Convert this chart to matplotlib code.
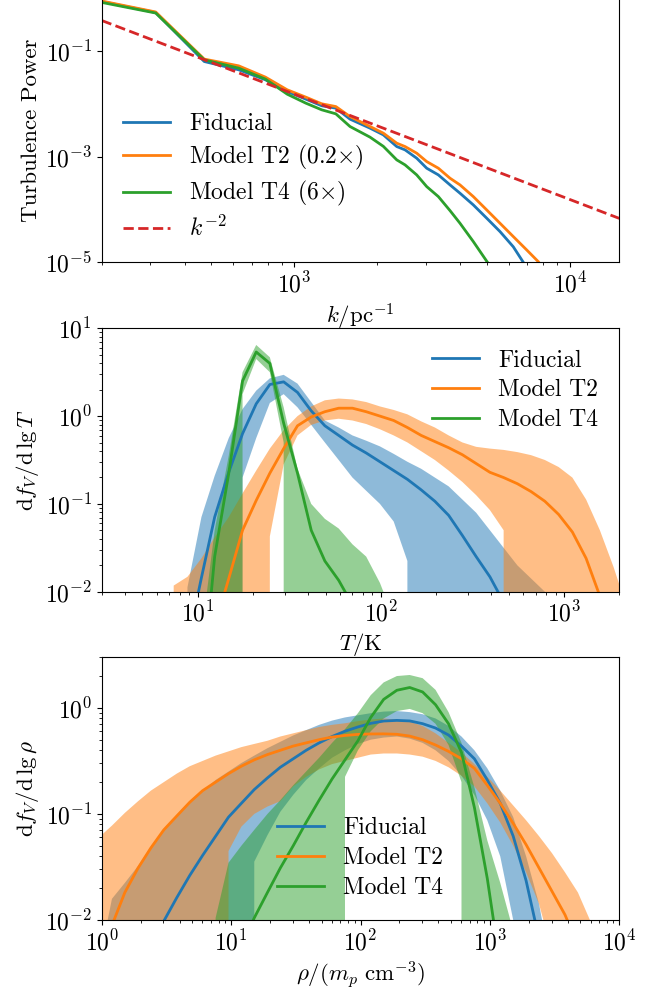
import numpy as np
import matplotlib
matplotlib.use("Agg")
from matplotlib import pyplot as plt

plt.rcParams['font.family'] = 'serif'
plt.rcParams['font.serif'] = ['cmr10', 'DejaVu Serif']
plt.rcParams['mathtext.fontset'] = 'cm'
plt.rcParams['axes.unicode_minus'] = False
plt.rcParams['axes.formatter.use_mathtext'] = True
plt.rcParams['font.size'] = 17
plt.rcParams['axes.labelsize'] = 16.5
plt.rcParams['axes.labelpad'] = 3
plt.rcParams['legend.fontsize'] = 17
plt.rcParams['legend.labelspacing'] = 0.32

Z = -np.inf  # empty bin (lg of zero)

# ---- turbulence power spectrum ----
k = [157, 314, 471, 628, 785, 942, 1100, 1257, 1414, 1592, 1882, 2103, 2352, 2521,
     2779, 3021, 3330, 3671, 3990, 4460, 4988, 5574, 6229, 6965, 7674, 8500]
lg_P_fid = [0.06, -0.26, -1.19, -1.347, -1.537, -1.76, -1.904, -2.03, -2.075, -2.284,
            -2.455, -2.582, -2.804, -2.867, -3.025, -3.215, -3.342, -3.532, -3.69,
            -3.912, -4.164, -4.418, -4.707, -5.1, -5.4, -5.7]
lg_P_t2 = [0.07, -0.25, -1.144, -1.272, -1.486, -1.727, -1.866, -1.993, -2.045, -2.234,
           -2.424, -2.55, -2.74, -2.804, -2.93, -3.089, -3.215, -3.405, -3.532,
           -3.754, -4.007, -4.26, -4.513, -4.766, -4.989, -5.3]
lg_P_t4 = [0.04, -0.27, -1.158, -1.316, -1.524, -1.81, -1.98, -2.107, -2.183, -2.424,
           -2.626, -2.80, -3.057, -3.152, -3.342, -3.564, -3.754, -4.02, -4.26,
           -4.608, -4.98, -5.35, -5.8, -6.3, -6.8, -7.2]
k_ref = [200, 15100]
A_ref = 1.55e4  # normalisation of the k^-2 guide

# ---- temperature PDF ----
T = [7.41, 8.81, 10.5, 12.4, 14.8, 17.6, 20.9, 24.8, 29.5, 35.1, 41.7, 49.5, 58.9,
     70.0, 83.2, 98.9, 117.5, 139.6, 166.0, 197.2, 234.4, 278.6, 331.1, 393.6, 467.7,
     555.9, 660.7, 785.2, 933.3, 1109, 1318, 1567, 1862, 2213]
lg_fid_T = [Z, -2.6, -1.84, -1.15, -0.64, -0.2, 0.14, 0.36, 0.39, 0.27, 0.06, -0.11,
            -0.22, -0.33, -0.42, -0.52, -0.62, -0.72, -0.84, -0.97, -1.13, -1.36, -1.6,
            -1.83, -2.12, -2.5, Z, Z, Z, Z, Z, Z, Z, Z]
lg_fid_T_hi = [Z, -1.95, -1.15, -0.68, -0.25, 0.08, 0.29, 0.43, 0.47, 0.37, 0.16, -0.05,
               -0.13, -0.22, -0.28, -0.345, -0.43, -0.52, -0.6, -0.7, -0.8, -0.95, -1.1,
               -1.3, -1.5, -1.7, -1.85, -2.0, -2.3, Z, Z, Z, Z, Z]
lg_fid_T_lo = [Z, Z, Z, Z, Z, -0.7, -0.25, 0.15, 0.25, 0.1, -0.1, -0.3, -0.5, -0.7,
               -0.85, -1.0, -1.2, -1.65, Z, Z, Z, Z, Z, Z, Z, Z, Z, Z, Z, Z, Z, Z, Z, Z]
lg_t2_T = [Z, Z, Z, -2.4, -1.85, -1.30, -0.96, -0.65, -0.37, -0.11, -0.01, 0.05, 0.09,
           0.09, 0.05, 0.0, -0.05, -0.13, -0.22, -0.29, -0.36, -0.44, -0.54, -0.64,
           -0.70, -0.77, -0.86, -0.97, -1.12, -1.32, -1.62, -2.05, -2.6, Z]
lg_t2_T_hi = [-1.93, -1.83, -1.62, -1.38, -1.15, -0.88, -0.62, -0.37, -0.16, 0.0, 0.11,
              0.18, 0.2, 0.19, 0.16, 0.11, 0.07, 0.02, -0.06, -0.13, -0.22, -0.3, -0.35,
              -0.37, -0.385, -0.41, -0.445, -0.5, -0.58, -0.7, -0.95, -1.3, -1.72, -2.2]
lg_t2_T_lo = [Z, Z, Z, Z, Z, Z, Z, -1.37, -0.55, -0.22, -0.1, -0.05, -0.03, -0.05, -0.09,
              -0.15, -0.22, -0.3, -0.4, -0.5, -0.62, -0.75, -0.9, -1.07, -1.3,
              Z, Z, Z, Z, Z, Z, Z, Z, Z]
lg_t4_T = [Z, Z, -3.2, -1.6, -0.65, 0.40, 0.73, 0.60, -0.08, -0.65, -1.3, -1.65, -1.87,
           -2.15, -2.5, Z, Z, Z, Z, Z, Z, Z, Z, Z, Z, Z, Z, Z, Z, Z, Z, Z, Z, Z]
lg_t4_T_hi = [Z, Z, -2.5, -1.3, -0.45, 0.5, 0.81, 0.67, 0.1, -0.6, -1.0, -1.17, -1.28,
              -1.46, -1.6, -1.9, -2.3, Z, Z, Z, Z, Z, Z, Z, Z, Z, Z, Z, Z, Z, Z, Z, Z, Z]
lg_t4_T_lo = [Z, Z, Z, Z, Z, 0.25, 0.65, 0.5, -0.3, Z, Z, Z, Z, Z, Z, Z, Z, Z, Z, Z, Z,
              Z, Z, Z, Z, Z, Z, Z, Z, Z, Z, Z, Z, Z]

# ---- density PDF ----
rho = [0.955, 1.20, 1.51, 1.91, 2.40, 3.02, 3.80, 4.79, 6.03, 7.59, 9.55, 12.0, 15.1,
       19.1, 24.0, 30.2, 38.0, 47.9, 60.3, 75.9, 95.5, 120, 151, 191, 240, 302, 380,
       479, 603, 759, 955, 1202, 1514, 1905, 2399, 3020, 3802, 4786, 6026, 7586]
lg_fid_r = [-3.35, -3.06, -2.72, -2.41, -2.19, -2.01, -1.79, -1.58, -1.39, -1.21, -1.03,
            -0.9, -0.77, -0.66, -0.56, -0.48, -0.40, -0.33, -0.27, -0.22, -0.18, -0.146,
            -0.124, -0.118, -0.123, -0.149, -0.19, -0.256, -0.36, -0.48, -0.68, -0.9,
            -1.21, -1.63, -2.18, -2.86, Z, Z, Z, Z]
lg_fid_r_hi = [-2.4, -1.8, -1.65, -1.49, -1.31, -1.15, -1.01, -0.88, -0.78, -0.68, -0.6,
               -0.52, -0.45, -0.38, -0.32, -0.26, -0.21, -0.16, -0.12, -0.09, -0.07,
               -0.05, -0.035, -0.03, -0.04, -0.06, -0.1, -0.17, -0.27, -0.4, -0.57,
               -0.78, -1.03, -1.4, -1.85, -2.5, Z, Z, Z, Z]
lg_fid_r_lo = [Z, Z, Z, Z, Z, Z, Z, Z, Z, Z, Z, Z, -1.45, -1.2, -0.98, -0.82, -0.68,
               -0.57, -0.47, -0.4, -0.34, -0.3, -0.28, -0.27, -0.29, -0.33, -0.4, -0.5,
               -0.64, -0.82, -1.06, -1.4, -2.0, Z, Z, Z, Z, Z, Z, Z]
lg_t2_r = [-2.43, -2.05, -1.74, -1.51, -1.32, -1.15, -1.02, -0.89, -0.78, -0.70, -0.62,
           -0.55, -0.49, -0.44, -0.40, -0.36, -0.33, -0.30, -0.275, -0.26, -0.25,
           -0.246, -0.245, -0.249, -0.266, -0.30, -0.35, -0.41, -0.48, -0.57, -0.73,
           -0.90, -1.09, -1.29, -1.51, -1.73, -1.95, -2.24, -2.62, Z]
lg_t2_r_hi = [-1.22, -1.11, -0.99, -0.88, -0.78, -0.7, -0.62, -0.55, -0.5, -0.45, -0.41,
              -0.37, -0.34, -0.31, -0.27, -0.24, -0.21, -0.18, -0.16, -0.145, -0.125,
              -0.11, -0.1, -0.11, -0.13, -0.17, -0.24, -0.33, -0.42, -0.53, -0.65,
              -0.78, -0.92, -1.06, -1.21, -1.37, -1.55, -1.74, -2.02, -2.4]
lg_t2_r_lo = [Z, Z, Z, Z, Z, Z, Z, Z, Z, Z, -1.35, -1.12, -1.0, -0.93, -0.88, -0.74,
              -0.65, -0.58, -0.53, -0.5, -0.47, -0.44, -0.43, -0.43, -0.44, -0.46, -0.5,
              -0.56, -0.64, -0.74, -0.9, -1.08, -1.3, -1.55, -1.85, -2.3, Z, Z, Z, Z]
lg_t4_r = [Z, Z, Z, Z, Z, Z, Z, Z, Z, Z, -2.56, -2.26, -1.98, -1.74, -1.51, -1.30, -1.08,
           -0.87, -0.67, -0.49, -0.31, -0.09, 0.08, 0.166, 0.192, 0.15, 0.03, -0.15,
           -0.42, -0.94, -1.61, -2.43, Z, Z, Z, Z, Z, Z, Z, Z]
lg_t4_r_hi = [Z, Z, Z, Z, Z, Z, Z, Z, Z, -1.98, -1.46, -1.3, -1.15, -1.0, -0.87, -0.73,
              -0.6, -0.47, -0.33, -0.2, -0.05, 0.12, 0.24, 0.3, 0.31, 0.28, 0.17, -0.04,
              -0.33, -0.75, -1.25, -1.65, -2.1, Z, Z, Z, Z, Z, Z, Z]
lg_t4_r_lo = [Z, Z, Z, Z, Z, Z, Z, Z, Z, Z, Z, Z, Z, Z, Z, Z, Z, Z, Z, -0.65, -0.4,
              -0.22, -0.1, -0.03, -0.01, -0.05, -0.15, -0.35, -0.7, Z, Z, Z, Z, Z, Z, Z,
              Z, Z, Z, Z]

labels = ['Fiducial', 'Model T2', 'Model T4']
colors = ['tab:blue', 'tab:orange', 'tab:green']


def lin(a):
    return np.power(10.0, np.array(a, dtype=float))


fig = plt.figure(figsize=(6.63, 9.93), dpi=100)

# power spectrum
ax1 = fig.add_axes([0.1534, 0.7359, 0.7807, 0.2653])
ax1.plot(k, lin(lg_P_fid), color=colors[0], lw=2, label='Fiducial')
ax1.plot(k, lin(lg_P_t2), color=colors[1], lw=2, label=r'Model T2 (0.2$\times$)')
ax1.plot(k, lin(lg_P_t4), color=colors[2], lw=2, label=r'Model T4 (6$\times$)')
ax1.plot(k_ref, A_ref / np.array(k_ref, dtype=float) ** 2, color='tab:red', ls='--',
         lw=2, label=r'$k^{-2}$')
ax1.set_xscale('log')
ax1.set_yscale('log')
ax1.set_xlim(200, 15100)
ax1.set_ylim(1e-5, 1)
ax1.set_yticks([1e-5, 1e-3, 1e-1])
ax1.yaxis.set_minor_locator(matplotlib.ticker.NullLocator())
ax1.set_xlabel(r'$k/\mathrm{pc}^{-1}$')
ax1.set_ylabel('Turbulence Power')
ax1.legend(loc='lower left', frameon=False)

# temperature PDF
ax2 = fig.add_axes([0.1534, 0.4041, 0.7807, 0.2653])
for c, lab, m, lo, hi in zip(colors, labels,
                             [lg_fid_T, lg_t2_T, lg_t4_T],
                             [lg_fid_T_lo, lg_t2_T_lo, lg_t4_T_lo],
                             [lg_fid_T_hi, lg_t2_T_hi, lg_t4_T_hi]):
    ax2.fill_between(T, lin(lo), lin(hi), color=c, alpha=0.5, lw=0)
    ax2.plot(T, lin(m), color=c, lw=2, label=lab)
ax2.set_xscale('log')
ax2.set_yscale('log')
ax2.set_xlim(3, 2000)
ax2.set_ylim(1e-2, 10)
ax2.set_xlabel(r'$T/\mathrm{K}$')
ax2.set_ylabel(r'$\mathrm{d}f_V/\mathrm{d}\,\lg T$')
ax2.legend(loc='upper right', frameon=False)

# density PDF
ax3 = fig.add_axes([0.1534, 0.0735, 0.7807, 0.2646])
for c, lab, m, lo, hi in zip(colors, labels,
                             [lg_fid_r, lg_t2_r, lg_t4_r],
                             [lg_fid_r_lo, lg_t2_r_lo, lg_t4_r_lo],
                             [lg_fid_r_hi, lg_t2_r_hi, lg_t4_r_hi]):
    ax3.fill_between(rho, lin(lo), lin(hi), color=c, alpha=0.5, lw=0)
    ax3.plot(rho, lin(m), color=c, lw=2, label=lab)
ax3.set_xscale('log')
ax3.set_yscale('log')
ax3.set_xlim(1, 1e4)
ax3.set_ylim(1e-2, 3)
ax3.set_xlabel(r'$\rho/(m_p\ \mathrm{cm}^{-3})$')
ax3.set_ylabel(r'$\mathrm{d}f_V/\mathrm{d}\,\lg\rho$')
ax3.legend(loc='lower left', frameon=False, bbox_to_anchor=(0.298, 0.0))

fig.savefig('out.png', dpi=100)
